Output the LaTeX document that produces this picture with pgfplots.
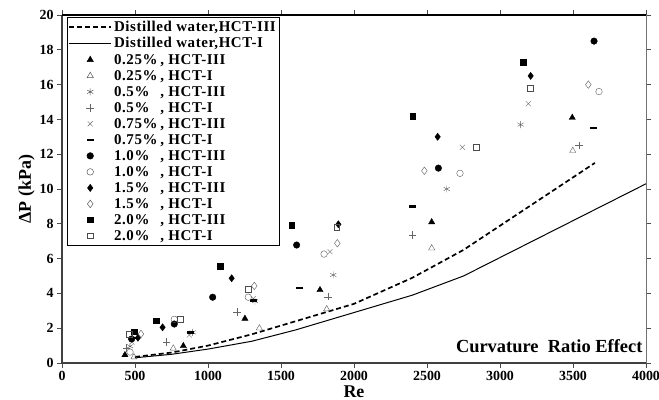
\documentclass[border=0pt]{standalone}
\usepackage{fontspec}
\setmainfont{Liberation Serif}
\usepackage{pgfplots}
\pgfplotsset{compat=1.18}

\newcommand{\conc}[2]{\makebox[3.1em][l]{#1}, #2}

\begin{document}
\begin{tikzpicture}
\begin{axis}[
    scale only axis,
    width=584bp, height=348bp,
    xmin=0, xmax=4000,
    ymin=0, ymax=20,
    xtick={0,500,...,4000},
    ytick={0,2,...,20},
    tick align=outside,
    major tick length=5bp,
    tick style={black!70, line width=0.6pt},
    /pgf/number format/assume math mode=true,
    /pgf/number format/1000 sep={},
    ticklabel style={font=\bfseries\fontsize{14}{14}\selectfont},
    xlabel={Re}, ylabel={ΔP (kPa)},
    label style={font=\bfseries\fontsize{18}{18}\selectfont},
    xlabel style={yshift=2bp},
    ylabel style={yshift=-2bp},
    axis line style={draw=none},
    clip=false,
    legend style={at={(0.008,0.993)}, anchor=north west, draw=black,
        line width=0.5pt, inner sep=1.5pt,
        font=\bfseries\fontsize{15}{15}\selectfont\addfontfeature{LetterSpace=4},
        row sep=0.6pt},
    legend cell align=left,
    legend image code/.code={\draw[mark repeat=2,mark phase=2,#1]
        plot coordinates {(0cm,0cm) (0.74cm,0cm) (1.48cm,0cm)};},
    mark size=3pt,
]

% distilled water
\addplot[black, line width=1.7pt, dash pattern=on 5pt off 3pt] coordinates {
    (500,0.35) (750,0.6) (1000,1.0) (1300,1.65) (1600,2.4) (2000,3.4)
    (2400,4.9) (2750,6.5) (3200,9.0) (3650,11.5) };
\addlegendentry{Distilled water,HCT-III}
\addplot[black, line width=1pt] coordinates {
    (500,0.3) (750,0.5) (1000,0.8) (1300,1.25) (1600,1.9) (2000,2.9)
    (2400,3.9) (2750,5.0) (4000,10.3) };
\addlegendentry{Distilled water,HCT-I}

% nanofluids
\addplot[only marks, mark=triangle*, mark size=3.6pt, black] coordinates {
    (431,0.46) (831,0.98) (1253,2.55) (1767,4.2) (2532,8.1) (3495,14.1) };
\addlegendentry{\conc{0.25\%}{HCT-III}}
\addplot[only marks, mark=triangle, mark size=3.6pt, black!65] coordinates {
    (493,0.34) (762,0.84) (1352,2.0) (1813,3.1) (2532,6.6) (3498,12.2) };
\addlegendentry{\conc{0.25\%}{HCT-I}}
\addplot[only marks, mark=asterisk, mark size=3.5pt, black!65] coordinates {
    (466,0.96) (895,1.76) (1322,3.55) (1858,5.06) (2635,10.0) (3141,13.7) };
\addlegendentry{\conc{0.5\%}{HCT-III}}
\addplot[only marks, mark=+, mark size=3.8pt, black!60] coordinates {
    (443,0.86) (717,1.22) (1200,2.93) (1820,3.81) (2402,7.35) (3541,12.5) };
\addlegendentry{\conc{0.5\%}{HCT-I}}
\addplot[only marks, mark=x, mark size=3.5pt, black!60] coordinates {
    (480,1.2) (872,1.61) (1310,3.7) (1836,6.4) (2742,12.4) (3194,14.9) };
\addlegendentry{\conc{0.75\%}{HCT-III}}
\addplot[only marks, mark=-, mark size=3.5pt, black, mark options={line width=2.4pt}] coordinates {
    (500,1.45) (880,1.75) (1310,3.6) (1630,4.3) (2402,9.0) (3639,13.5) };
\addlegendentry{\conc{0.75\%}{HCT-I}}
\addplot[only marks, mark=*, mark size=3.3pt, black] coordinates {
    (477,1.38) (769,2.24) (1032,3.78) (1607,6.78) (2578,11.2) (3644,18.5) };
\addlegendentry{\conc{1.0\%}{HCT-III}}
\addplot[only marks, mark=o, mark size=3.3pt, black!65] coordinates {
    (466,0.63) (769,2.51) (1276,3.78) (1795,6.26) (2726,10.9) (3678,15.6) };
\addlegendentry{\conc{1.0\%}{HCT-I}}
\addplot[only marks, mark=diamond*, mark size=3.6pt, black] coordinates {
    (520,1.45) (689,2.05) (1162,4.87) (1893,7.97) (2573,13.0) (3210,16.5) };
\addlegendentry{\conc{1.5\%}{HCT-III}}
\addplot[only marks, mark=diamond, mark size=3.8pt, black!65] coordinates {
    (541,1.67) (1317,4.43) (1886,6.88) (2482,11.05) (3605,16.0) };
\addlegendentry{\conc{1.5\%}{HCT-I}}
\addplot[only marks, mark=square*, mark size=2.8pt, black] coordinates {
    (493,1.8) (644,2.43) (1082,5.57) (1573,7.93) (2402,14.2) (3160,17.3) };
\addlegendentry{\conc{2.0\%}{HCT-III}}
\addplot[only marks, mark=square, mark size=2.8pt, black!70] coordinates {
    (461,1.67) (808,2.51) (1276,4.23) (1881,7.8) (2836,12.4) (3205,15.8) };
\addlegendentry{\conc{2.0\%}{HCT-I}}

% frame
\draw[line width=2.4pt, black!75] (rel axis cs:0,1) -- (rel axis cs:0,0) -- (rel axis cs:1,0);
\draw[line width=2.4pt, black] (rel axis cs:0,1) -- (rel axis cs:1,1);
\draw[line width=0.6pt, black!55] (rel axis cs:1,0) -- (rel axis cs:1,1);

\node[anchor=base east, font=\bfseries\fontsize{18.5}{18.5}\selectfont]
    at (axis cs:4000,0.63) {Curvature\ \ Ratio Effect};
\end{axis}
\pgfresetboundingbox
\path ([xshift=-62bp,yshift=-37bp]current axis.south west)
    rectangle ([xshift=13bp,yshift=15bp]current axis.north east);
\end{tikzpicture}
\end{document}
